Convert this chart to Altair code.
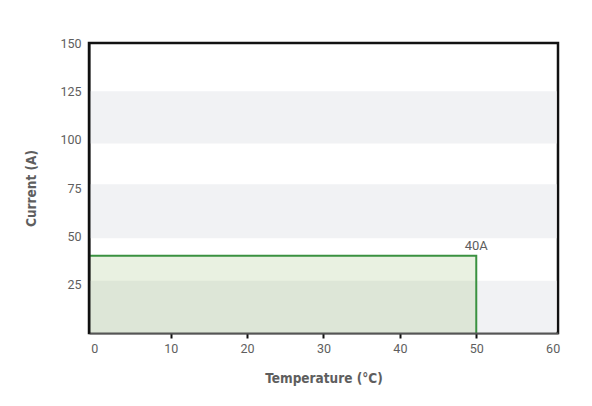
import altair as alt
import pandas as pd

# Data
line_temp = [-1, 50, 50]
line_current = [40, 40, 0]
area_temp_start = [-1]
area_temp_end = [50]
area_current = [40]
band_low = [0, 49, 98]
band_high = [27, 77, 125]
x_labels = [0, 10, 20, 30, 40, 50, 60]
y_labels = [25, 50, 75, 100, 125, 150]
label_text = ["40A"]

bands = pd.DataFrame({"lo": band_low, "hi": band_high})
line_df = pd.DataFrame({"t": line_temp, "c": line_current, "o": list(range(len(line_temp)))})
area_df = pd.DataFrame({"t0": area_temp_start, "t1": area_temp_end, "c": area_current, "lab": label_text})

xscale = alt.Scale(domain=[-0.7, 60.7], nice=False, zero=False)
yscale = alt.Scale(domain=[0, 150], nice=False)

title_font = "DejaVu Sans Condensed"
label_font = "Roboto"
text_color = "#5e5e5e"

xaxis = alt.Axis(
    title="Temperature (°C)", values=x_labels, grid=False, zindex=1,
    tickColor=alt.condition("datum.value > 0 && datum.value < 60", alt.value("#111111"), alt.value("transparent")),
    tickSize=5, tickWidth=2, domainColor="#555555", domainWidth=2,
    labelColor=text_color, labelFont=label_font, labelFontSize=12.5, labelPadding=4,
    titleColor=text_color, titleFont=title_font, titleFontSize=13.5, titleFontWeight="bold",
    titlePadding=17,
)
yaxis = alt.Axis(
    title="Current (A)", values=y_labels, grid=False, ticks=False, zindex=1,
    domainColor="#111111", domainWidth=2,
    labelColor=text_color, labelFont=label_font, labelFontSize=12.5, labelPadding=8,
    titleColor=text_color, titleFont=title_font, titleFontSize=13.5, titleFontWeight="bold",
    titlePadding=21,
)

band_layer = alt.Chart(bands).mark_rect(color="#f1f2f4").encode(
    x=alt.value(0), x2=alt.value(467.5),
    y=alt.Y("lo:Q", scale=yscale, axis=yaxis), y2="hi:Q",
)

area_layer = alt.Chart(area_df).mark_rect(color="#6ca237", opacity=0.15, clip=True).encode(
    x=alt.X("t0:Q", scale=xscale, axis=xaxis), x2="t1:Q",
    y=alt.Y("c:Q", scale=yscale), y2=alt.datum(0),
)

line_layer = alt.Chart(line_df).mark_line(color="#3a9140", strokeWidth=2, clip=True).encode(
    x=alt.X("t:Q", scale=xscale),
    y=alt.Y("c:Q", scale=yscale),
    order="o:Q",
)

text_layer = alt.Chart(area_df).mark_text(
    color=text_color, font=label_font, fontSize=13, dy=-10, baseline="middle", align="center"
).encode(
    x=alt.X("t1:Q", scale=xscale),
    y=alt.Y("c:Q", scale=yscale),
    text="lab:N",
)

chart = alt.layer(band_layer, area_layer, line_layer, text_layer).properties(
    width=469, height=290,
    background="white",
    autosize=alt.AutoSizeParams(type="none"),
    padding={"left": 81, "top": 35, "right": 26, "bottom": 65},
).configure_view(stroke="#111111", strokeWidth=2.5)

chart.save("out.html", embed_options={"renderer": "svg", "actions": False})
